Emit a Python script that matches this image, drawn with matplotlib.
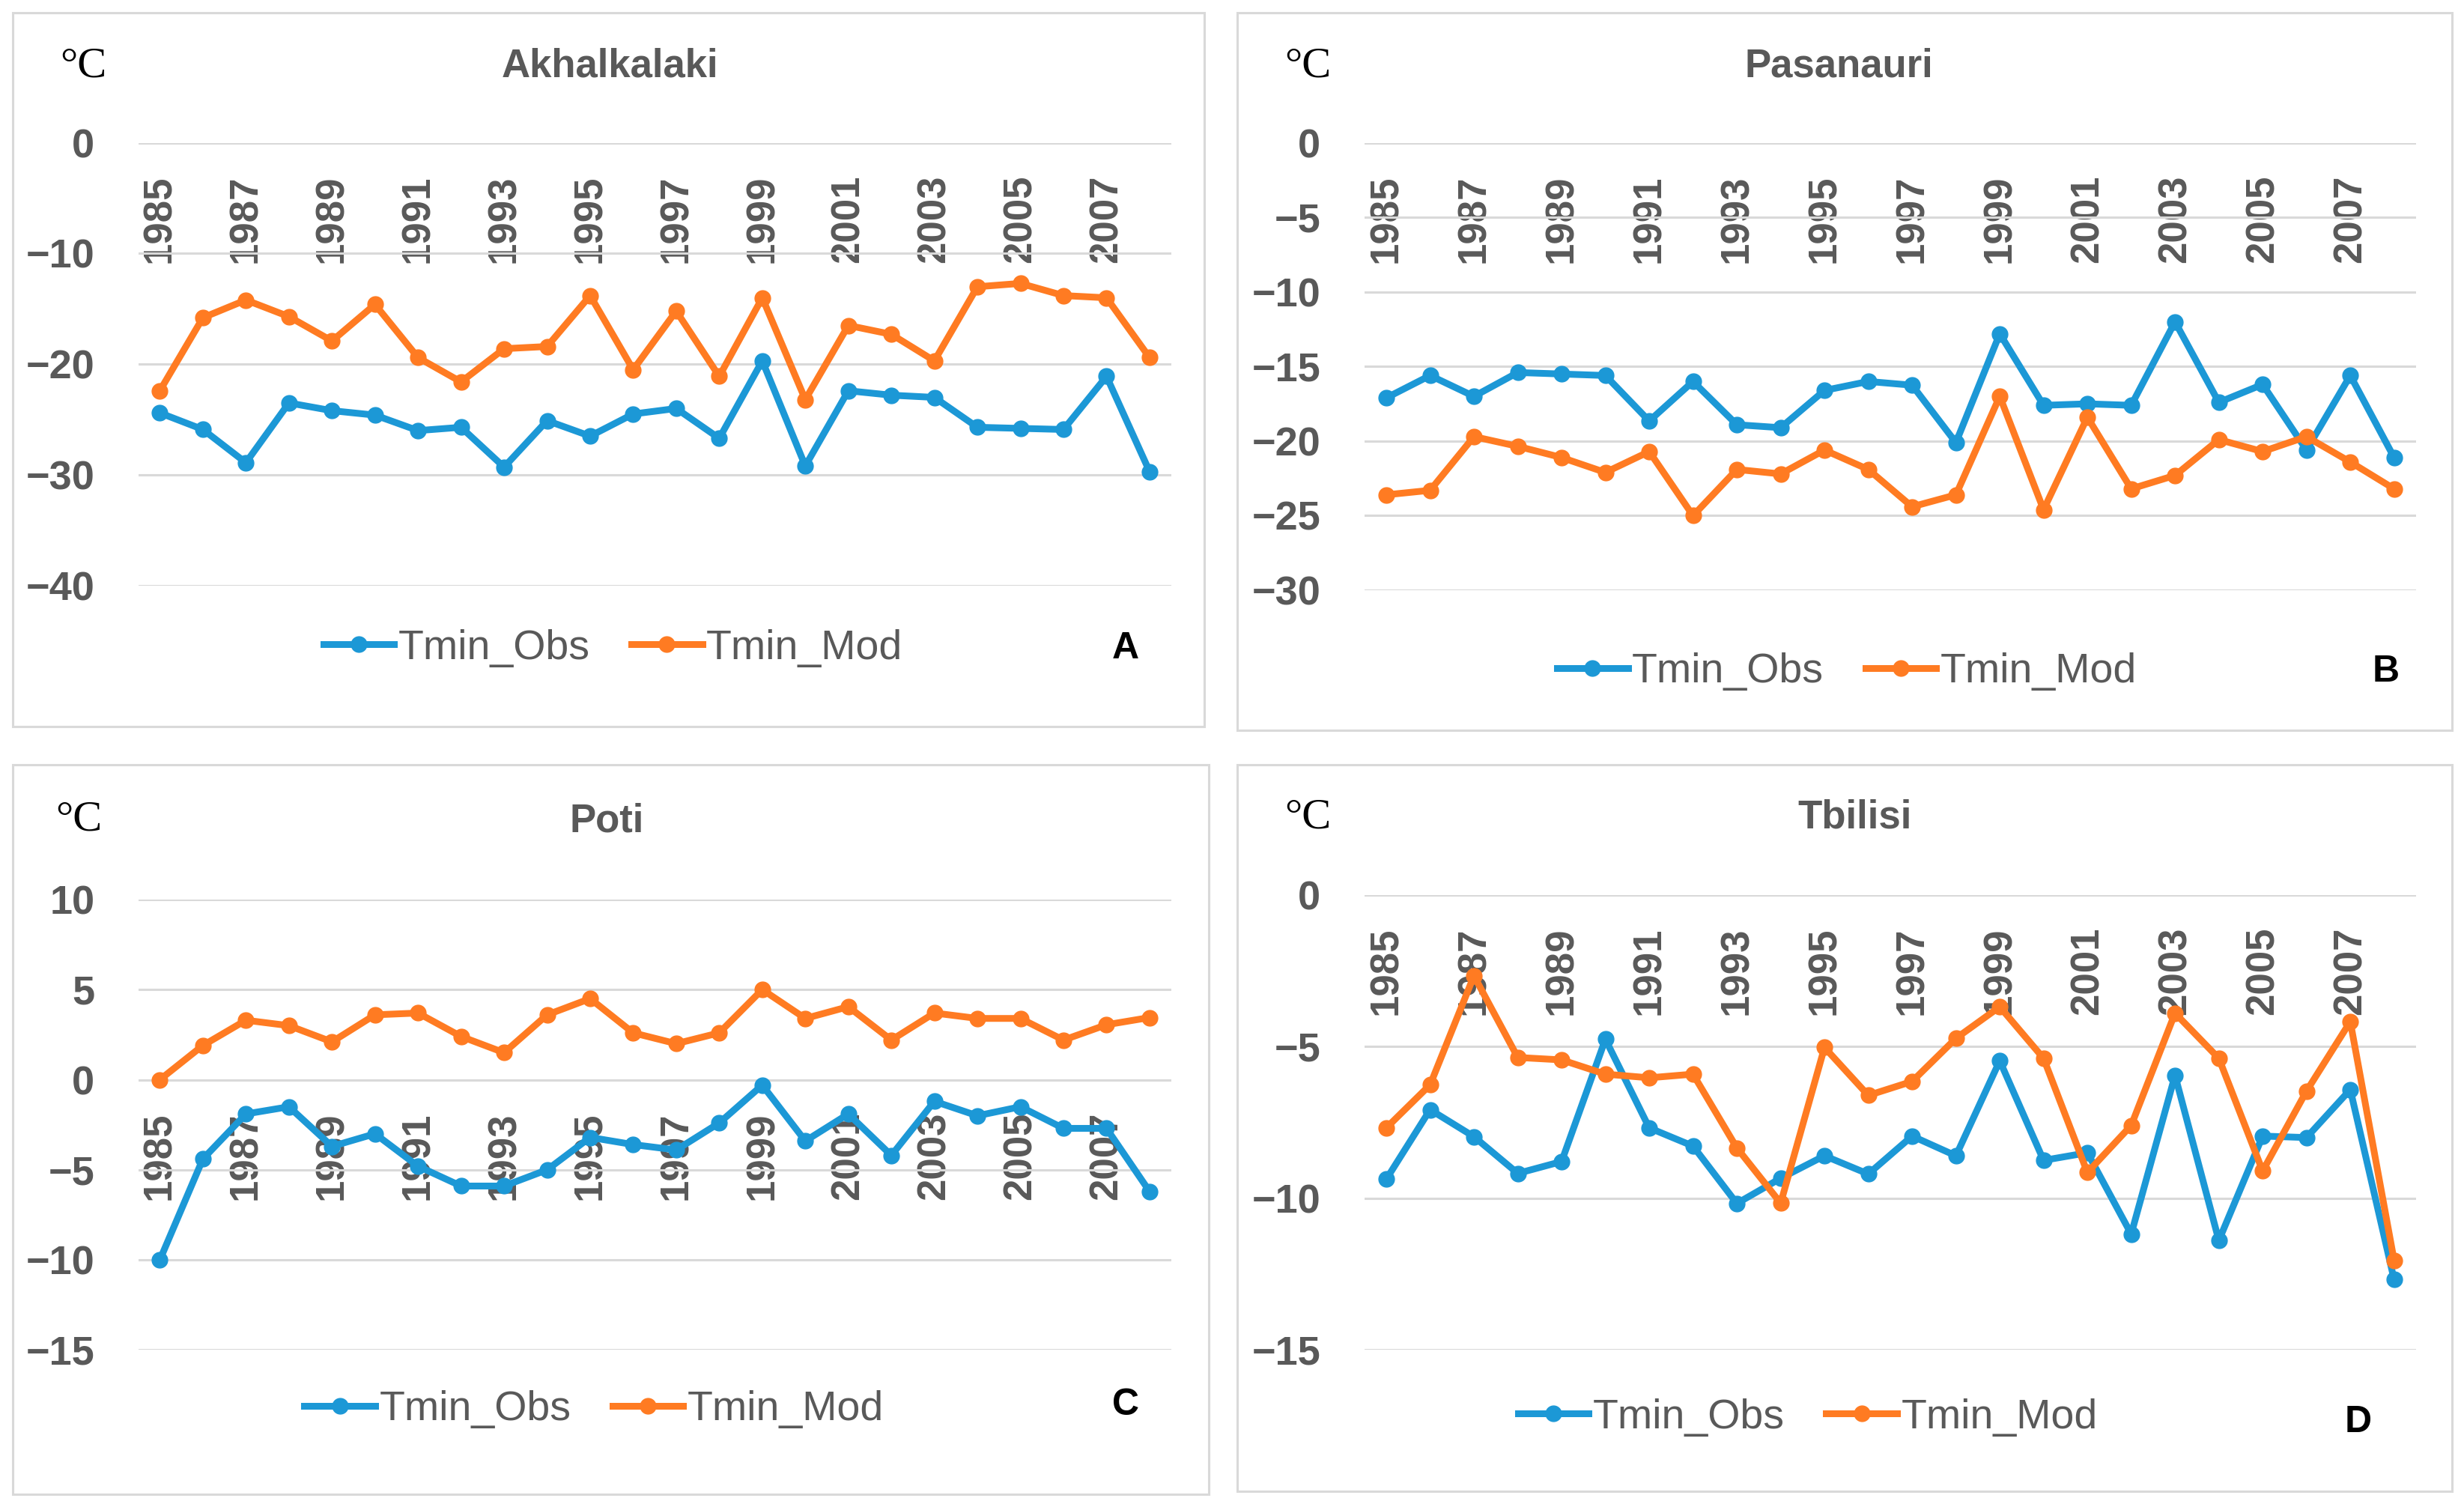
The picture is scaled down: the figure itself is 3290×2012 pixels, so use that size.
import matplotlib
matplotlib.use("Agg")
import matplotlib.pyplot as plt
from matplotlib.patches import Rectangle
import numpy as np

years = list(range(1985, 2009))
year_labels = [str(y) if (y - 1985) % 2 == 0 else "" for y in years]

akh_obs = [-24.4, -25.9, -28.9, -23.5, -24.2, -24.6, -26.0, -25.7, -29.3, -25.1, -26.5, -24.5,
           -24.0, -26.7, -19.7, -29.2, -22.4, -22.8, -23.0, -25.7, -25.8, -25.9, -21.1, -29.7]
akh_mod = [-22.4, -15.8, -14.2, -15.7, -17.9, -14.6, -19.4, -21.6, -18.6, -18.4, -13.8, -20.5,
           -15.2, -21.1, -14.0, -23.2, -16.5, -17.3, -19.7, -13.0, -12.7, -13.8, -14.0, -19.4]

pas_obs = [-17.1, -15.6, -17.0, -15.4, -15.5, -15.6, -18.65, -16.0, -18.9, -19.1, -16.6, -16.0,
           -16.25, -20.1, -12.8, -17.6, -17.5, -17.6, -12.0, -17.4, -16.2, -20.6, -15.6, -21.1]
pas_mod = [-23.6, -23.3, -19.7, -20.35, -21.1, -22.1, -20.7, -25.0, -21.9, -22.2, -20.6, -21.9,
           -24.4, -23.6, -17.0, -24.6, -18.4, -23.2, -22.3, -19.9, -20.7, -19.7, -21.4, -23.2]

pot_obs = [-10.0, -4.4, -1.9, -1.5, -3.7, -3.0, -4.8, -5.9, -5.9, -5.0, -3.2, -3.6,
           -3.9, -2.4, -0.3, -3.4, -1.9, -4.2, -1.2, -2.0, -1.5, -2.7, -2.7, -6.2]
pot_mod = [0.0, 1.9, 3.3, 3.0, 2.1, 3.6, 3.7, 2.4, 1.5, 3.6, 4.5, 2.6,
           2.0, 2.6, 5.0, 3.4, 4.05, 2.2, 3.7, 3.4, 3.4, 2.2, 3.05, 3.45]

tbi_obs = [-9.37, -7.08, -7.97, -9.18, -8.79, -4.76, -7.68, -8.28, -10.17, -9.34, -8.6, -9.2,
           -7.95, -8.6, -5.47, -8.75, -8.5, -11.18, -5.95, -11.39, -7.95, -8.0, -6.42, -12.68]
tbi_mod = [-7.68, -6.26, -2.67, -5.36, -5.44, -5.91, -6.03, -5.91, -8.34, -10.16, -5.03, -6.61,
           -6.15, -4.73, -3.69, -5.39, -9.15, -7.6, -3.9, -5.39, -9.1, -6.47, -4.18, -12.05]

titles = ["Akhalkalaki", "Pasanauri", "Poti", "Tbilisi"]
letters = ["A", "B", "C", "D"]
series_names = ["Tmin_Obs", "Tmin_Mod"]

BLUE = "#1C98D6"
ORANGE = "#FF7B22"
GRID = "#D9D9D9"
TXT = "#595959"

W, H = 1568.0, 960.0
fig = plt.figure(figsize=(32.91, 20.12), dpi=100)
fig.patch.set_facecolor("white")

def fx(px):
    return px / W

def fy(py):
    return 1 - py / H

panels = [
    dict(obs=akh_obs, mod=akh_mod, ylim=(-40, 0), yticks=[0, -10, -20, -30, -40],
         ax=(88, 745, 91, 373), box=(8, 8, 766, 463), title=(388, 42), deg=(53, 42),
         leg=(390, 413), let=(716, 413)),
    dict(obs=pas_obs, mod=pas_mod, ylim=(-30, 0), yticks=[0, -5, -10, -15, -20, -25, -30],
         ax=(868, 1537, 91, 376), box=(787, 8, 1560, 465), title=(1170, 42), deg=(832, 42),
         leg=(1175, 428), let=(1518, 428)),
    dict(obs=pot_obs, mod=pot_mod, ylim=(-15, 10), yticks=[10, 5, 0, -5, -10, -15],
         ax=(88, 745, 573, 860), box=(8, 487, 769, 952), title=(386, 523), deg=(50, 522),
         leg=(378, 898), let=(716, 895)),
    dict(obs=tbi_obs, mod=tbi_mod, ylim=(-15, 0), yticks=[0, -5, -10, -15],
         ax=(868, 1537, 570, 860), box=(787, 487, 1560, 950), title=(1180, 521), deg=(832, 521),
         leg=(1150, 903), let=(1500, 906)),
]

x = np.arange(len(years))

for i, p in enumerate(panels):
    bx0, by0, bx1, by1 = p["box"]
    fig.patches.append(Rectangle((fx(bx0), fy(by1)), fx(bx1) - fx(bx0), fy(by0) - fy(by1),
                                 transform=fig.transFigure, fill=False, edgecolor=GRID,
                                 linewidth=2.2, zorder=0))
    l, r, t, b = p["ax"]
    ax = fig.add_axes([fx(l), fy(b), fx(r) - fx(l), fy(t) - fy(b)])
    ax.set_facecolor("none")
    ax.set_axisbelow(True)
    lo = ax.plot(x, p["obs"], color=BLUE, lw=6.5, marker="o", ms=15, zorder=3,
                 label=series_names[0], solid_joinstyle="round")[0]
    lm = ax.plot(x, p["mod"], color=ORANGE, lw=6.5, marker="o", ms=15, zorder=3,
                 label=series_names[1], solid_joinstyle="round")[0]
    ax.set_xlim(-0.5, len(years) - 0.5)
    ax.set_ylim(*p["ylim"])
    ax.set_yticks(p["yticks"])
    ax.yaxis.grid(True, color=GRID, lw=2.2)
    for s in ax.spines.values():
        s.set_visible(False)
    ax.spines["bottom"].set_position(("data", 0))
    ax.set_xticks(x)
    ax.set_xticklabels(year_labels, rotation=90, fontsize=38, fontweight="bold",
                       color=TXT, family="Liberation Sans", va="top")
    ax.tick_params(axis="x", length=0, pad=31)
    ax.tick_params(axis="y", length=0, pad=42, labelsize=39, labelcolor=TXT)
    for lab in ax.get_yticklabels():
        lab.set_fontweight("bold")
        lab.set_family("Liberation Sans")

    fig.text(fx(p["title"][0]), fy(p["title"][1]), titles[i], ha="center", va="center",
             fontsize=38, fontweight="bold", color=TXT, family="Liberation Sans")
    fig.text(fx(p["deg"][0]), fy(p["deg"][1]), "°C", ha="center", va="center",
             fontsize=42, color="black", family="Liberation Serif")
    fig.text(fx(p["let"][0]), fy(p["let"][1]), letters[i], ha="center", va="center",
             fontsize=36, fontweight="bold", color="black", family="Liberation Sans")
    fig.legend(handles=[lo, lm], loc="center", ncol=2, frameon=False,
               bbox_to_anchor=(fx(p["leg"][0]), fy(p["leg"][1])),
               prop=dict(family="Liberation Sans", size=40), labelcolor=TXT,
               handlelength=1.7, handletextpad=0.1, columnspacing=1.0)

fig.savefig("out.png", dpi=100, facecolor="white")
